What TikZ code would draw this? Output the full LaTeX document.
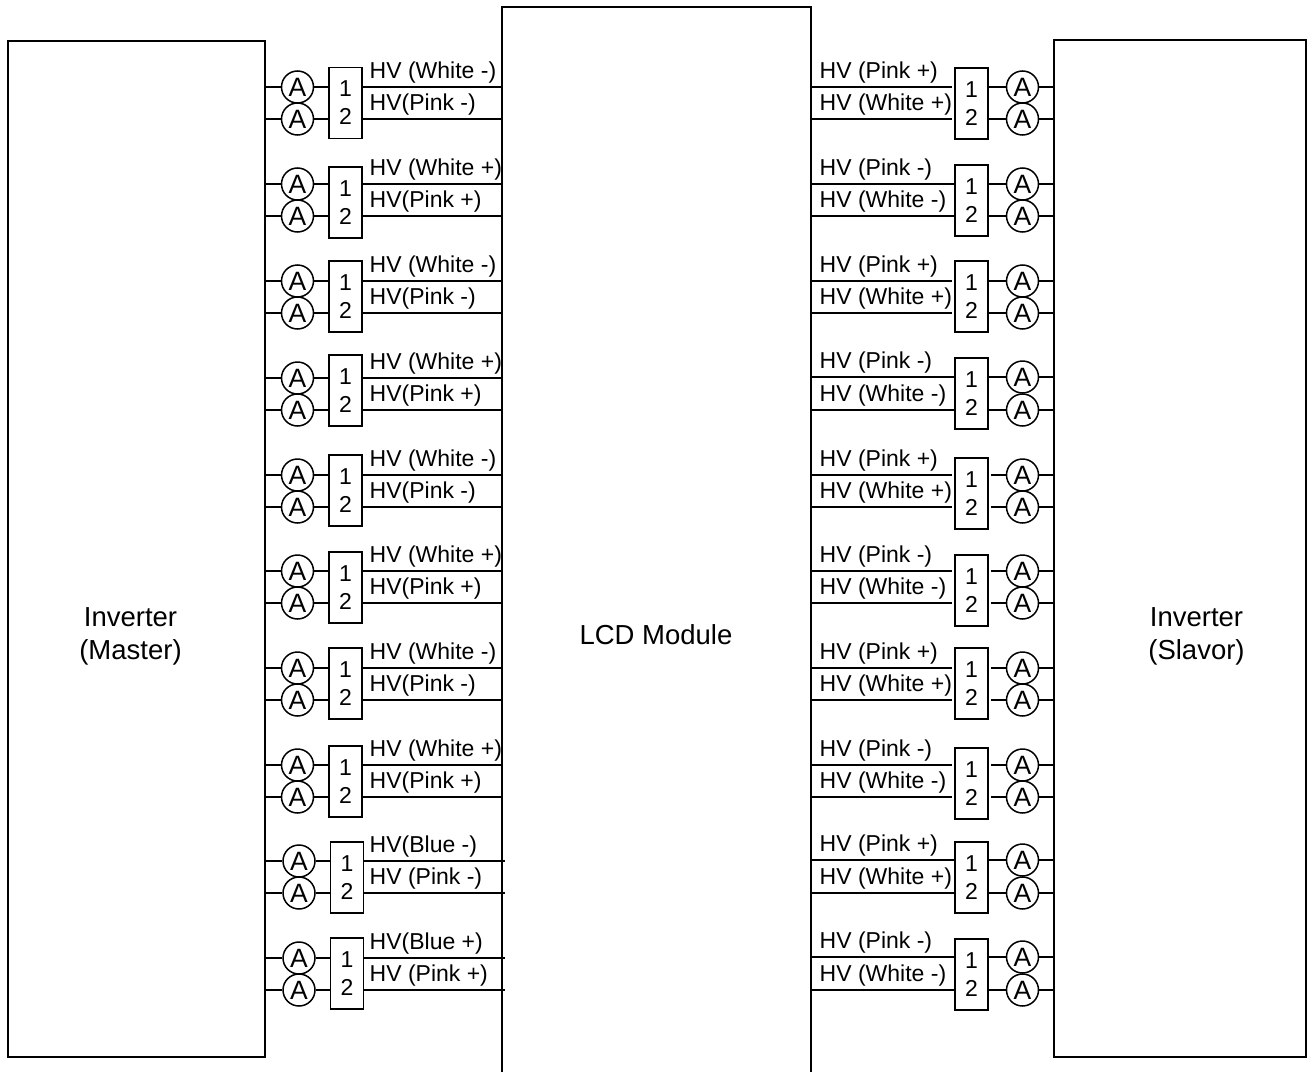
\documentclass[tikz,border=0pt]{standalone}
\usepackage{fontspec}
\setmainfont{Liberation Sans}
\tikzset{
	unit/.style={draw,line width=1.5pt,inner sep=0pt,minimum width=257pt},
	unittext/.style={inner sep=0pt,align=center,font=\fontsize{27.5}{33}\selectfont},
	plug/.style={draw,line width=1.5pt,inner sep=0pt,align=center,minimum width=33pt,minimum height=71pt,font=\fontsize{23}{28}\selectfont},
	meter/.style={draw,circle,line width=1.5pt,inner sep=0pt,minimum size=32pt,font=\fontsize{26.5}{26.5}\selectfont},
	wire/.style={line width=1.5pt},
	lbl/.style={inner sep=0pt,anchor=base west,font=\fontsize{23}{26}\selectfont}
}
\begin{document}
\begin{tikzpicture}[x=1pt,y=-1pt]
		\useasboundingbox(0,0)rectangle(1314,1073);
		\node[unit,minimum height=1016pt](master)at(136.5,549){};
		\node[unit,minimum width=252pt,minimum height=1017pt](slavor)at(1180,548.5){};
		\node[unittext](mastertext)at(130.5,636){Inverter\\(Master)};
		\node[unittext](slavortext)at(1196.5,636){Inverter\\(Slavor)};
		% module is open at the bottom
		\node[minimum width=309pt,minimum height=1065pt,inner sep=0pt](lcd)at(656.5,539.5){};
		\node[unittext](lcdtext)at(656,635){LCD Module};
		\draw[wire](lcd.south west)--(lcd.north west)--(lcd.north east)--(lcd.south east);
		% left side: line 1 / line 2 / box centre / meter x / box x / overshoot / labels
		\foreach \n/\a/\b/\c/\m/\p/\e/\la/\lb in {
			1/87/119/103/297.5/345.5/0/{HV (White -)}/{HV(Pink -)},
			2/184/216/202.5/297.5/345.5/0/{HV (White +)}/{HV(Pink +)},
			3/281/313/296.5/297.5/345.5/0/{HV (White -)}/{HV(Pink -)},
			4/378/410/390.5/297.5/345.5/0/{HV (White +)}/{HV(Pink +)},
			5/475/507/490.5/297.5/345.5/0/{HV (White -)}/{HV(Pink -)},
			6/571/603/587.5/297.5/345.5/0/{HV (White +)}/{HV(Pink +)},
			7/668/700/683.5/297.5/345.5/0/{HV (White -)}/{HV(Pink -)},
			8/765/797/781.5/297.5/345.5/0/{HV (White +)}/{HV(Pink +)},
			9/861/893/877.5/299/347/3/{HV(Blue -)}/{HV (Pink -)},
			10/958/990/973.5/299/347/3/{HV(Blue +)}/{HV (Pink +)}}{
			\node[plug](boxL\n)at(\p,\c){1\\2};
			\node[meter](mLa\n)at(\m,\a){A};
			\node[meter](mLb\n)at(\m,\b){A};
			\draw[wire](master.east|-mLa\n)--(mLa\n)(master.east|-mLb\n)--(mLb\n);
			\draw[wire](mLa\n)--(boxL\n.west|-mLa\n)(mLb\n)--(boxL\n.west|-mLb\n);
			\draw[wire](boxL\n.east|-mLa\n)--([xshift=\e pt]lcd.west|-mLa\n);
			\draw[wire](boxL\n.east|-mLb\n)--([xshift=\e pt]lcd.west|-mLb\n);
			\node[lbl](tLa\n)at(369.5,\a-9){\la};
			\node[lbl](tLb\n)at(369.5,\b-9){\lb};
		}
		% right side: same, with the gaps at the box
		\foreach \n/\a/\b/\c/\s/\g/\la/\lb in {
			1/87/119/103.5/2/0/{HV (Pink +)}/{HV (White +)},
			2/184/216/200.5/0/0/{HV (Pink -)}/{HV (White -)},
			3/281/313/296.5/2/0/{HV (Pink +)}/{HV (White +)},
			4/377/410/393.5/0/0/{HV (Pink -)}/{HV (White -)},
			5/475/507/493.5/2/2/{HV (Pink +)}/{HV (White +)},
			6/571/603/590.5/2/2/{HV (Pink -)}/{HV (White -)},
			7/668/700/683.5/2/2/{HV (Pink +)}/{HV (White +)},
			8/765/797/783.5/2/2/{HV (Pink -)}/{HV (White -)},
			9/860/893/877.5/0/0/{HV (Pink +)}/{HV (White +)},
			10/957/990/974.5/0/0/{HV (Pink -)}/{HV (White -)}}{
			\node[plug](boxR\n)at(971.5,\c){1\\2};
			\node[meter](mRa\n)at(1022.5,\a){A};
			\node[meter](mRb\n)at(1022.5,\b){A};
			\draw[wire,shorten >=\s pt](lcd.east|-mRa\n)--(boxR\n.west|-mRa\n);
			\draw[wire,shorten >=\s pt](lcd.east|-mRb\n)--(boxR\n.west|-mRb\n);
			\draw[wire,shorten <=\g pt](boxR\n.east|-mRa\n)--(mRa\n);
			\draw[wire,shorten <=\g pt](boxR\n.east|-mRb\n)--(mRb\n);
			\draw[wire](mRa\n)--(slavor.west|-mRa\n)(mRb\n)--(slavor.west|-mRb\n);
			\node[lbl](tRa\n)at(819.5,\a-9){\la};
			\node[lbl](tRb\n)at(819.5,\b-9){\lb};
		}
	\end{tikzpicture}
\end{document}
